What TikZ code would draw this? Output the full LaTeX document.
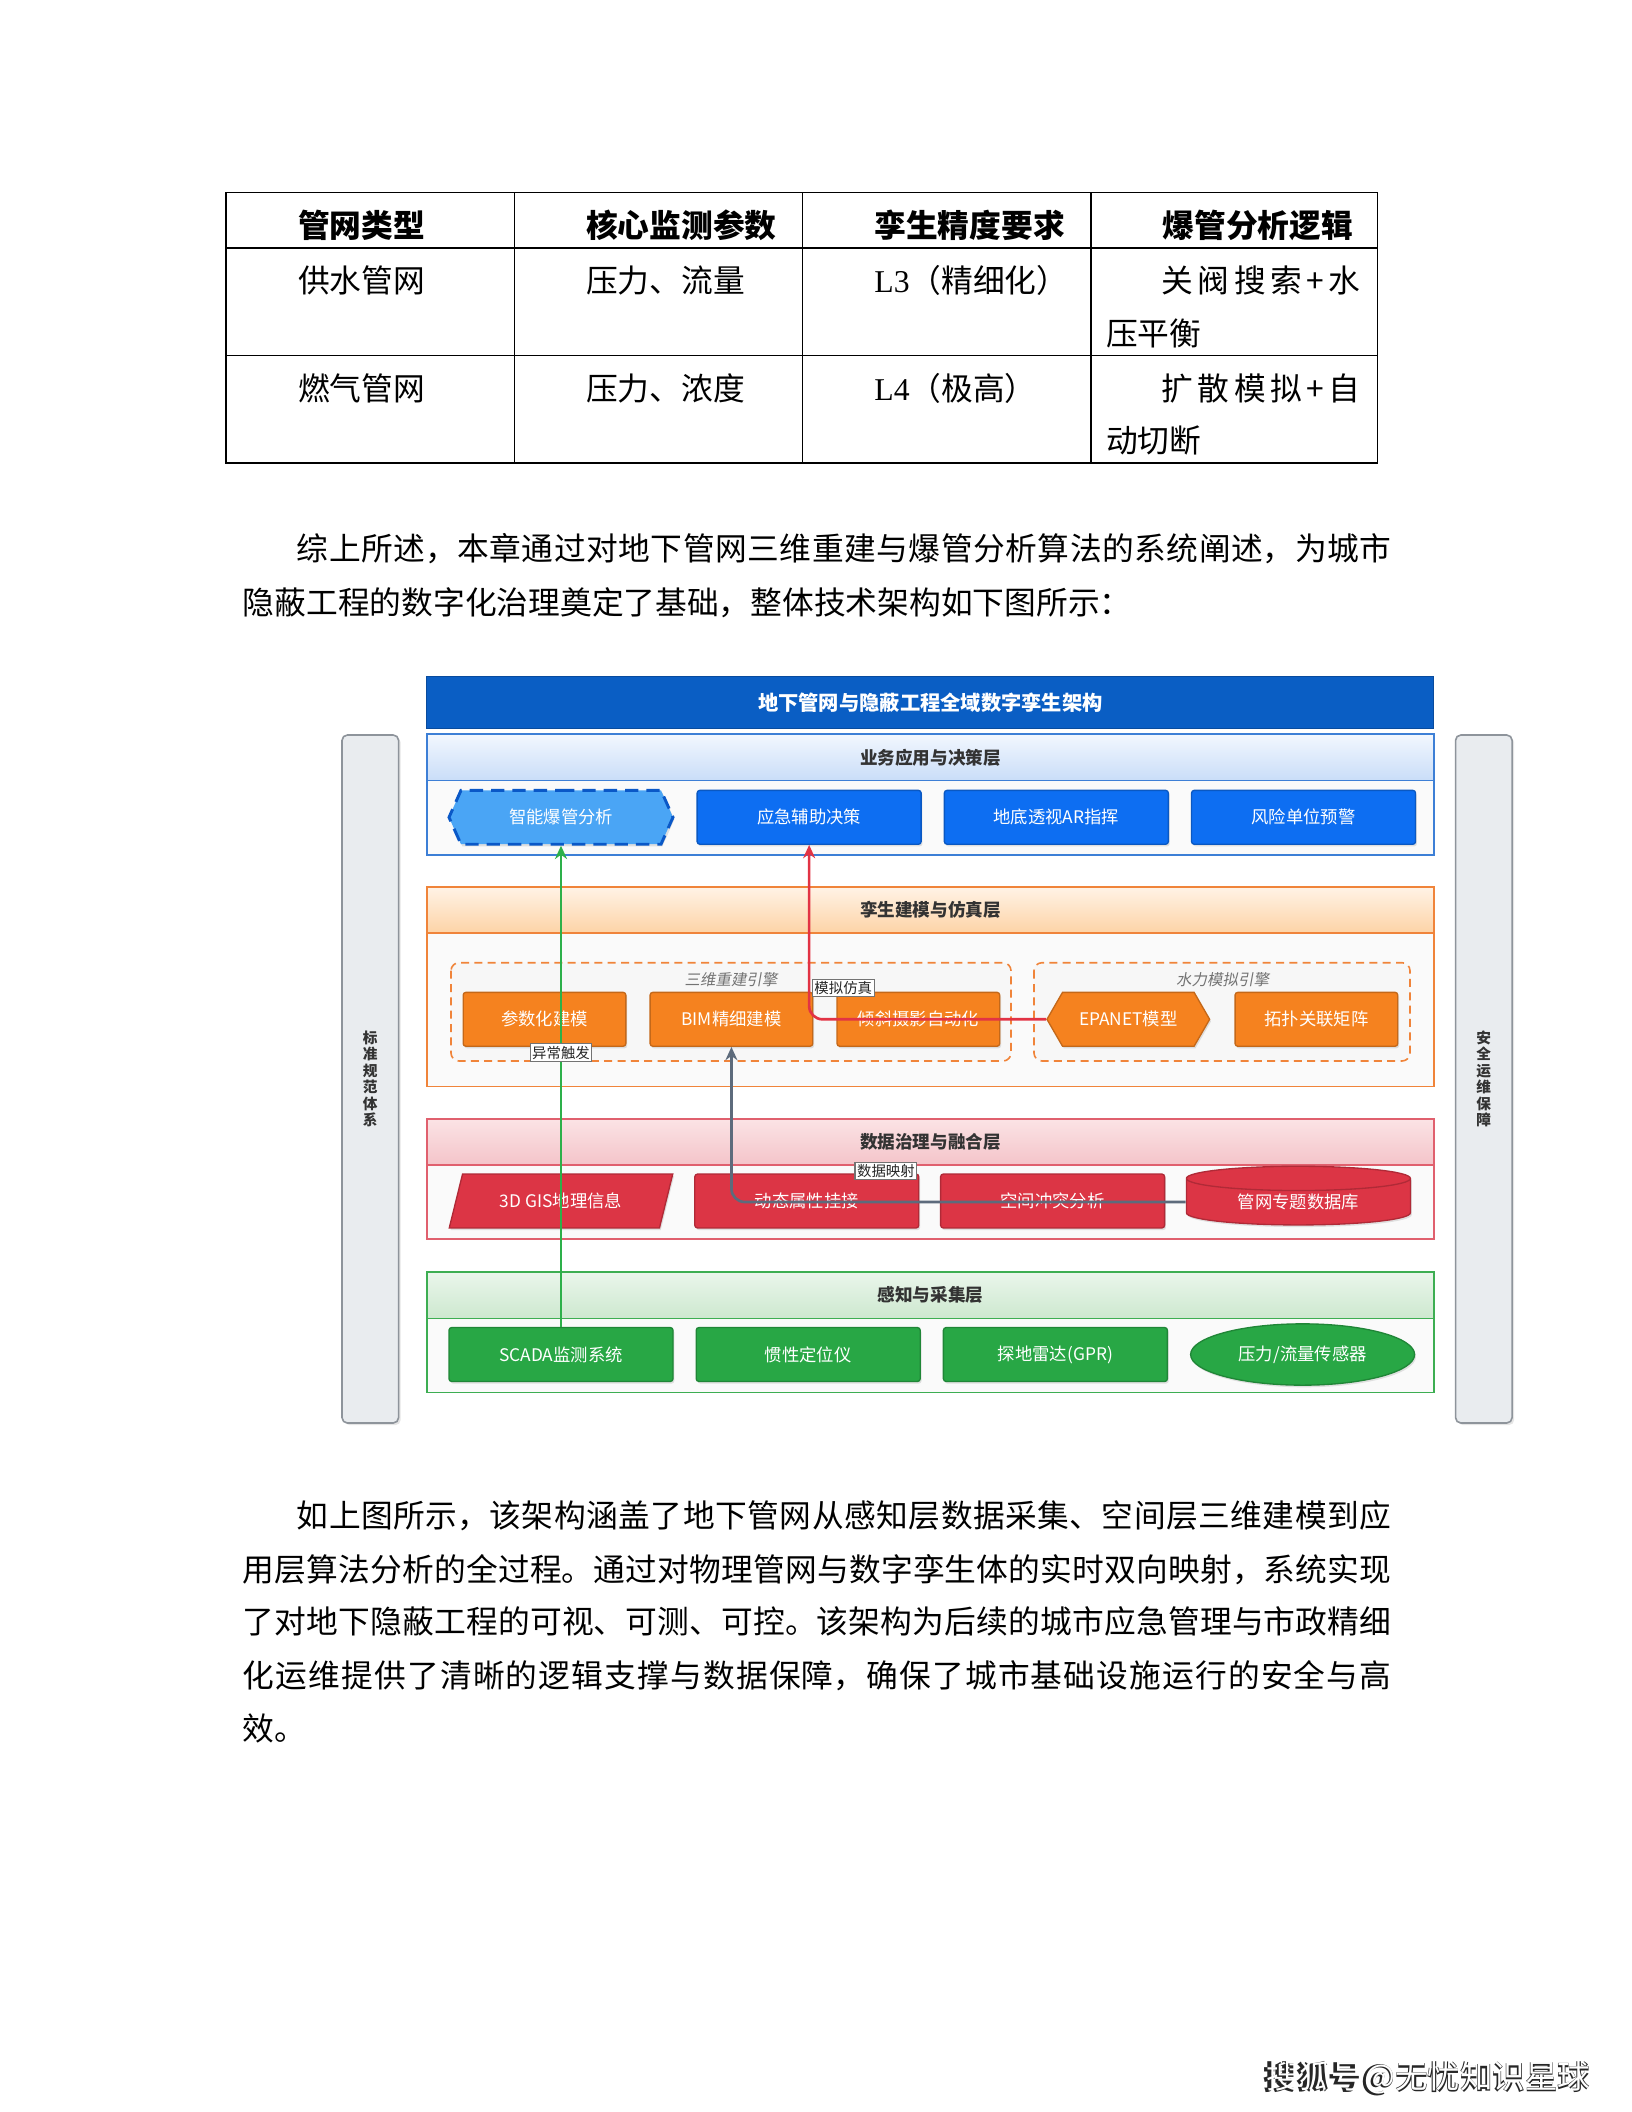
\documentclass[tikz,border=0pt]{standalone}
\usepackage{fontspec}
\setmainfont{Noto Sans CJK SC}
\newfontfamily\latserif{Liberation Serif}
\newfontfamily\slantcjk[FakeSlant=0.18]{Noto Sans CJK SC}
\usetikzlibrary{arrows.meta,positioning,shapes.geometric,shapes.symbols,shadows}
\XeTeXlinebreaklocale "zh"
\XeTeXlinebreakskip=0pt plus 1fil

\definecolor{titleblue}{HTML}{0A5EC4}
\definecolor{appedge}{HTML}{3D7FD6}
\definecolor{apptop}{HTML}{F2F7FE}
\definecolor{appbot}{HTML}{C9DDF8}
\definecolor{appfill}{HTML}{0D6EF2}
\definecolor{hexfill}{HTML}{4AA5F5}
\definecolor{hexedge}{HTML}{0A58C7}
\definecolor{twinedge}{HTML}{F0843A}
\definecolor{twintop}{HTML}{FFF3E6}
\definecolor{twinbot}{HTML}{FDD3A6}
\definecolor{twinfill}{HTML}{F5821F}
\definecolor{dataedge}{HTML}{E0606E}
\definecolor{datatop}{HTML}{FBE3E5}
\definecolor{databot}{HTML}{F4C4C9}
\definecolor{datafill}{HTML}{DC3545}
\definecolor{senseedge}{HTML}{3DAE52}
\definecolor{sensetop}{HTML}{EAF6EB}
\definecolor{sensebot}{HTML}{CDE8CF}
\definecolor{sensefill}{HTML}{28A745}
\definecolor{sidefill}{HTML}{E9ECEF}
\definecolor{sideedge}{HTML}{8E949B}
\definecolor{greenline}{HTML}{2DB04A}
\definecolor{redline}{HTML}{E23344}
\definecolor{slateline}{HTML}{5D6B7C}

\newcommand\bodysize{\fontsize{11.9pt}{14pt}\selectfont}
\newcommand\boxsize{\fontsize{6.5pt}{8pt}\selectfont}

\begin{document}
\begin{tikzpicture}[x=0.375pt, y=-0.375pt,
    node distance=8.2pt,
    txt/.style={anchor=base west, inner sep=0pt, font=\bodysize},
    htxt/.style={txt, font=\bodysize\bfseries},
    jline/.style={txt, text width=430.7pt,
      execute at begin node={\noindent\rightskip=0pt\parfillskip=0pt\relax}},
    rule/.style={line width=0.6pt},
    frame/.style={draw=#1, line width=0.6pt, fill=black!2},
    head/.style n args={3}{draw=#1, line width=0.6pt, top color=#2, bottom color=#3,
      minimum width=377.6pt, minimum height=17.4pt, inner sep=0pt, text=black!80,
      font=\fontsize{6.6pt}{8pt}\selectfont\bfseries},
    box/.style={draw=#1!80!black, fill=#1, text=white, line width=0.5pt,
      rounded corners=1pt, minimum height=20.2pt, inner sep=0pt, font=\boxsize,
      drop shadow={opacity=0.22, shadow xshift=0.5pt, shadow yshift=-0.8pt}},
    wide/.style={minimum width=84pt},
    narrow/.style={minimum width=61pt},
    grp/.style={draw=twinedge, dash pattern=on 3pt off 2pt, line width=0.6pt,
      rounded corners=3pt, fill=black!3},
    grplabel/.style={inner sep=0pt, text=black!55, font=\fontsize{5.8pt}{7pt}\slantcjk},
    side/.style={draw=sideedge, fill=sidefill, line width=0.6pt, rounded corners=2pt,
      minimum width=21.2pt, minimum height=258pt, inner sep=0pt, align=center,
      text=black!80, font=\fontsize{5.5pt}{6.2pt}\selectfont\bfseries,
      drop shadow={opacity=0.2, shadow xshift=0.8pt, shadow yshift=-0.8pt}},
    lbl/.style={draw=black!55, fill=white, inner sep=0.8pt, line width=0.4pt, sharp corners,
      text=black!85, font=\fontsize{5.4pt}{6pt}\selectfont},
    flow/.style={-{Stealth[length=5pt,width=4.5pt]}, line width=1pt, rounded corners=5pt}
  ]
  \fill[white] (0,0) rectangle (1632,2112);
  \useasboundingbox (0,0) rectangle (1632,2112);

  % table
  \draw[rule] (226.2,192.5) rectangle (1377.5,463.2);
  \draw[rule] (226.2,247.8) -- (1377.5,247.8);
  \draw[rule] (226.2,355.5) -- (1377.5,355.5);
  \draw[rule] (514.4,192.5) -- (514.4,463.2);
  \draw[rule] (802.5,192.5) -- (802.5,463.2);
  \draw[rule] (1090.7,192.5) -- (1090.7,463.2);
  \node[htxt] (h1) at (297.6,237) {管网类型};
  \node[htxt] (h2) at (585.7,237) {核心监测参数};
  \node[htxt] (h3) at (873.9,237) {孪生精度要求};
  \node[htxt] (h4) at (1162,237) {爆管分析逻辑};
  \node[txt] (r1c1) at (297.6,292) {供水管网};
  \node[txt] (r1c2) at (585.7,292) {压力、流量};
  \node[txt] (r1c3) at (873.9,292) {{\latserif L3}（精细化）};
  \node[txt] (r1c4) at (1161,292) {\hbox to 74.6pt{关\hfill 阀\hfill 搜\hfill 索\hfill +\hfill 水}};
  \node[txt] (r1c4b) at (1105.5,345) {压平衡};
  \node[txt] (r2c1) at (297.6,400) {燃气管网};
  \node[txt] (r2c2) at (585.7,400) {压力、浓度};
  \node[txt] (r2c3) at (873.9,400) {{\latserif L4}（极高）};
  \node[txt] (r2c4) at (1161,400) {\hbox to 74.6pt{扩\hfill 散\hfill 模\hfill 拟\hfill +\hfill 自}};
  \node[txt] (r2c4b) at (1105.5,452) {动切断};

  % paragraph before the figure
  \node[jline] (pa1) at (242.4,560) {\hspace*{20.2pt}综上所述，本章通过对地下管网三维重建与爆管分析算法的系统阐述，为城市};
  \node[txt] (pa2) at (242.4,614) {隐蔽工程的数字化治理奠定了基础，整体技术架构如下图所示：};

  % figure: side bars and title
  \node[side] (norms) at (370.3,1079) {标\\准\\规\\范\\体\\系};
  \node[side] (safety) at (1483.8,1079) {安\\全\\运\\维\\保\\障};
  \node[draw=titleblue!80!black, fill=titleblue, text=white, minimum width=377.6pt,
    minimum height=19.7pt, inner sep=0pt, font=\fontsize{7.6pt}{9pt}\selectfont\bfseries]
    (title) at (930.4,702.3) {地下管网与隐蔽工程全域数字孪生架构};

  % application layer
  \draw[frame=appedge] (426.8,733.8) rectangle (1434,855);
  \node[head={appedge}{apptop}{appbot}] (apphead) at (930.4,757.4) {业务应用与决策层};
  \node[box=hexfill, wide, signal, signal to=east and west, signal pointer angle=132,
    sharp corners, draw=hexedge, line width=1.1pt, dash pattern=on 5pt off 3pt]
    (burst) at (561,817.3) {智能爆管分析};
  \node[box=appfill, wide, right=of burst] (emerg) {应急辅助决策};
  \node[box=appfill, wide, right=of emerg] (arview) {地底透视AR指挥};
  \node[box=appfill, wide, right=of arview] (risk) {风险单位预警};

  % twin modelling layer
  \draw[frame=twinedge] (426.8,887) rectangle (1434,1086.6);
  \node[head={twinedge}{twintop}{twinbot}] (twinhead) at (930.4,910) {孪生建模与仿真层};
  \draw[grp] (451,962.7) rectangle (1011,1061);
  \draw[grp] (1034,962.7) rectangle (1410,1061);
  \node[grplabel] (engine3d) at (731,980) {三维重建引擎};
  \node[grplabel] (enginehyd) at (1222.6,980) {水力模拟引擎};
  \node[box=twinfill, narrow] (param) at (544.5,1019.3) {参数化建模};
  \node[box=twinfill, narrow, right=8.6pt of param] (bim) {BIM精细建模};
  \node[box=twinfill, narrow, right=8.6pt of bim] (oblique) {倾斜摄影自动化};
  \node[box=twinfill, narrow, signal, signal to=east and west, signal pointer angle=120,
    sharp corners] (epanet) at (1128.3,1019.3) {EPANET模型};
  \node[box=twinfill, narrow, right=9pt of epanet] (topo) {拓扑关联矩阵};

  % data layer
  \draw[frame=dataedge] (426.8,1119) rectangle (1434,1238.8);
  \node[head={dataedge}{datatop}{databot}] (datahead) at (930.4,1142) {数据治理与融合层};
  \node[box=datafill, wide, trapezium, trapezium left angle=63, trapezium right angle=117,
    trapezium stretches=true, sharp corners] (gis) at (561,1201) {3D GIS地理信息};
  \node[box=datafill, wide] (attach) at (806.8,1201) {动态属性挂接};
  \node[box=datafill, wide] (conflict) at (1052.6,1201) {空间冲突分析};
  \node[box=datafill, wide, cylinder, shape border rotate=90, aspect=0.2,
    minimum height=22pt, sharp corners] (pipedb) at (1298.4,1202) {管网专题数据库};

  % sensing layer
  \draw[frame=senseedge] (426.8,1272.4) rectangle (1434,1392.3);
  \node[head={senseedge}{sensetop}{sensebot}] (sensehead) at (930.4,1295.2) {感知与采集层};
  \node[box=sensefill, wide] (scada) at (561,1354.5) {SCADA监测系统};
  \node[box=sensefill, wide, right=of scada] (inertial) {惯性定位仪};
  \node[box=sensefill, wide, right=of inertial] (gpr) {探地雷达(GPR)};
  \node[box=sensefill, wide, ellipse, minimum height=23pt, right=of gpr] (sensor) {压力/流量传感器};

  % links
  \draw[flow, greenline] (scada.north) -- node[lbl, pos=0.57] {异常触发} (burst.south);
  \draw[flow, redline] (epanet.west) -| node[lbl, pos=0.59, anchor=west, xshift=1pt] {模拟仿真} (emerg.south);
  \draw[flow, slateline] (pipedb.west) -| node[lbl, pos=0.33, yshift=11.6pt] {数据映射} (bim.south);

  % paragraph after the figure
  \node[jline] (pb1) at (242.4,1527) {\hspace*{20.2pt}如上图所示，该架构涵盖了地下管网从感知层数据采集、空间层三维建模到应};
  \node[jline] (pb2) at (242.4,1581) {用层算法分析的全过程。通过对物理管网与数字孪生体的实时双向映射，系统实现};
  \node[jline] (pb3) at (242.4,1633) {了对地下隐蔽工程的可视、可测、可控。该架构为后续的城市应急管理与市政精细};
  \node[jline] (pb4) at (242.4,1687) {化运维提供了清晰的逻辑支撑与数据保障，确保了城市基础设施运行的安全与高};
  \node[txt] (pb5) at (242.4,1740) {效。};

  % footer mark
  \node[text=black!85, font=\fontsize{12.2pt}{14pt}\selectfont\bfseries] (sohushade) at (1427,2079) {搜狐号@无忧知识星球};
  \node[text=white, font=\fontsize{12.2pt}{14pt}\selectfont] (sohu) at (1428.5,2077.5) {搜狐号@无忧知识星球};
\end{tikzpicture}
\end{document}
